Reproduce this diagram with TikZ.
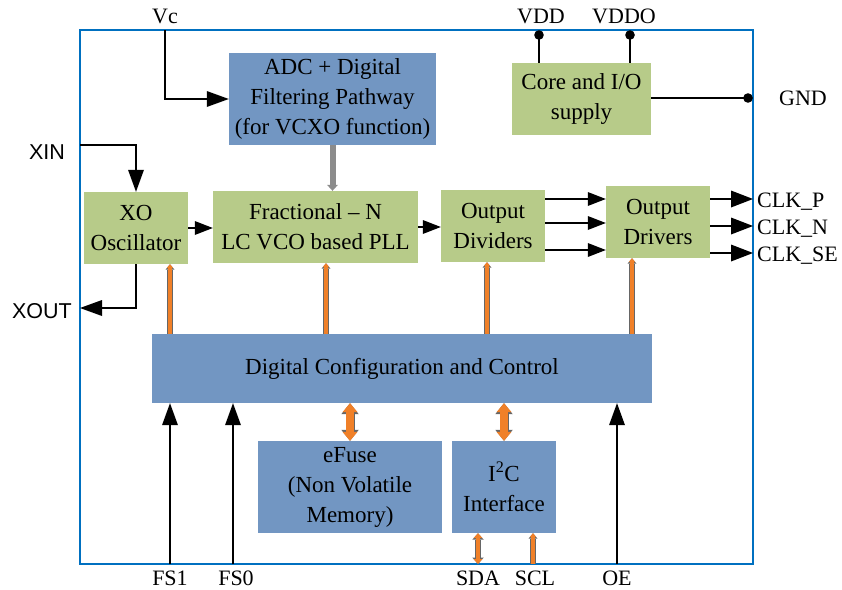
\documentclass[tikz,border=0pt]{standalone}
\usepackage{fontspec}
\setmainfont{Liberation Serif}
\newfontfamily\arialfont{Liberation Sans}
\usetikzlibrary{arrows.meta,calc}
\definecolor{chipblue}{RGB}{0,112,192}
\definecolor{digblue}{RGB}{114,150,194}
\definecolor{blkgreen}{RGB}{183,203,137}
\definecolor{ctlorange}{RGB}{240,128,40}
\definecolor{vcxogray}{RGB}{140,140,140}
\tikzset{
  boxtext/.style={font=\fontsize{23}{30}\selectfont, align=center, inner sep=0pt},
  digbox/.style={boxtext, fill=digblue},
  greenbox/.style={boxtext, fill=blkgreen},
  pinlbl/.style={font=\fontsize{22}{26}\selectfont, inner sep=0pt},
  sanslbl/.style={font=\arialfont\fontsize{21.5}{26}\selectfont, inner sep=0pt},
  sig/.style={line width=2.2pt, arrows={-Triangle[length=22pt,width=16pt,line width=0pt]}},
  smallsig/.style={line width=1.6pt, arrows={-Triangle[length=18pt,width=14pt,line width=0pt]}},
  outsig/.style={line width=2.8pt, arrows={-Triangle[length=22pt,width=17pt,line width=0pt]}},
  vcxo/.style={draw=vcxogray, line width=6pt, arrows={-Triangle[length=6pt,width=11pt,line width=0pt]}},
  ctl/.style={draw=ctlorange, line width=4.4pt, arrows={-Triangle[length=4pt,width=6.5pt,line width=0pt]},
    preaction={draw=black!60, line width=6pt, arrows={-Triangle[length=5.5pt,width=9pt,line width=0pt]}}},
  ctlboth/.style={draw=ctlorange, line width=4.4pt, arrows={Triangle[length=5pt,width=9pt,line width=0pt]-Triangle[length=5pt,width=9pt,line width=0pt]},
    preaction={draw=black!60, line width=6pt, arrows={Triangle[length=6.5pt,width=11.5pt,line width=0pt]-Triangle[length=6.5pt,width=11.5pt,line width=0pt]}}},
  ctlbig/.style={draw=ctlorange, line width=7.5pt, arrows={Triangle[length=9pt,width=15pt,line width=0pt]-Triangle[length=9pt,width=15pt,line width=0pt]},
    preaction={draw=black!60, line width=9pt, arrows={Triangle[length=11pt,width=17.5pt,line width=0pt]-Triangle[length=11pt,width=17.5pt,line width=0pt]}}},
  dot/.style={fill=black}
}
\begin{document}
\begin{tikzpicture}[x=1pt,y=-1pt]
  \useasboundingbox (0,0) rectangle (842,589);
  \draw[chipblue, line width=2.7pt] (80,30) rectangle (753,564);
  \node[digbox, minimum width=207, minimum height=92] (adc) at (332.5,99) {ADC + Digital\\Filtering Pathway\\(for VCXO function)};
  \node[greenbox, minimum width=139, minimum height=72] (core) at (581.5,99) {Core and I/O\\supply};
  \node[greenbox, minimum width=104, minimum height=72] (xo) at (136,228) {XO\\Oscillator};
  \node[greenbox, minimum width=205, minimum height=72] (frac) at (315.5,227) {Fractional -- N\\LC VCO based PLL};
  \node[greenbox, minimum width=104, minimum height=72] (div) at (493,226) {Output\\Dividers};
  \node[greenbox, minimum width=104, minimum height=72] (drv) at (658,222) {Output\\Drivers};
  \node[digbox, minimum width=500, minimum height=69] (dig) at (402,368.5) {Digital Configuration and Control};
  \node[digbox, minimum width=184, minimum height=92] (efuse) at (350,487) {eFuse\\(Non Volatile\\Memory)};
  \node[digbox, minimum width=104, minimum height=92] (i2c) at (504,487) {I\textsuperscript{2}C\\Interface};
  \coordinate (vcPin) at (165,30);
  \coordinate (xinPin) at (80,145);
  \coordinate (xoutPin) at (80,308);
  \coordinate (vddPin) at (539,35);
  \coordinate (vddoPin) at (630,35);
  \coordinate (gndPin) at (748,98);
  \coordinate (clkP) at (753,199);
  \coordinate (clkN) at (753,226);
  \coordinate (clkSE) at (753,253);
  \coordinate (fsOne) at (170,564);
  \coordinate (fsZero) at (233,564);
  \coordinate (sdaPin) at (478,564);
  \coordinate (sclPin) at (533,564);
  \coordinate (oePin) at (617,564);
  \draw[sig] (vcPin) |- (adc.west);
  \draw[vcxo] (adc.south) -- (adc.south |- frac.north);
  \draw[sig] (xinPin) -| (xo.north);
  \draw[sig] (xo.south) |- (xoutPin);
  \draw[smallsig] (xo.east) -- (xo.east -| frac.west);
  \draw[smallsig] (frac.east) -- (frac.east -| div.west);
  \foreach \yy in {199,223,250}
    \draw[smallsig] (div.east |- 0,\yy) -- (drv.west |- 0,\yy);
  \foreach \clk in {clkP,clkN,clkSE}
    \draw[outsig] (drv.east |- \clk) -- (\clk);
  \draw[line width=2.2pt] (vddPin) -- (vddPin |- core.north);
  \draw[line width=2.2pt] (vddoPin) -- (vddoPin |- core.north);
  \draw[line width=2.2pt] (core.east |- gndPin) -- (gndPin);
  \fill[dot] (vddPin) circle (4.8pt);
  \fill[dot] (vddoPin) circle (4.8pt);
  \fill[dot] (gndPin) circle (4.8pt);
  \foreach \xx/\blk in {170/xo,326/frac,487/div,632/drv}
    \draw[ctl] (\xx,0 |- dig.north) -- (\xx,0 |- \blk.south);
  \draw[ctlbig] (efuse.north |- dig.south) -- (efuse.north);
  \draw[ctlbig] (i2c.north |- dig.south) -- (i2c.north);
  \draw[ctlboth] (sdaPin |- i2c.south) -- (sdaPin);
  \draw[ctl] (sclPin) -- (sclPin |- i2c.south);
  \foreach \pin in {fsOne,fsZero,oePin}
    \draw[sig] (\pin) -- (\pin |- dig.south);
  \node[pinlbl, anchor=base] (vcLbl) at (165,23) {Vc};
  \node[pinlbl, anchor=base] (vddLbl) at (541,23) {VDD};
  \node[pinlbl, anchor=base] (vddoLbl) at (624,23) {VDDO};
  \node[pinlbl, anchor=base west] (gndLbl) at (779,105) {GND};
  \node[pinlbl, anchor=base west] (clkPLbl) at (757,207) {CLK\_P};
  \node[pinlbl, anchor=base west] (clkNLbl) at (757,234) {CLK\_N};
  \node[pinlbl, anchor=base west] (clkSELbl) at (757,261) {CLK\_SE};
  \node[sanslbl] (xinLbl) at (47,152) {XIN};
  \node[sanslbl] (xoutLbl) at (42,311) {XOUT};
  \node[pinlbl, anchor=base] (fsOneLbl) at (170,585) {FS1};
  \node[pinlbl, anchor=base] (fsZeroLbl) at (236,585) {FS0};
  \node[pinlbl, anchor=base] (sdaLbl) at (478,585) {SDA};
  \node[pinlbl, anchor=base] (sclLbl) at (535,585) {SCL};
  \node[pinlbl, anchor=base] (oeLbl) at (617,585) {OE};
\end{tikzpicture}
\end{document}
